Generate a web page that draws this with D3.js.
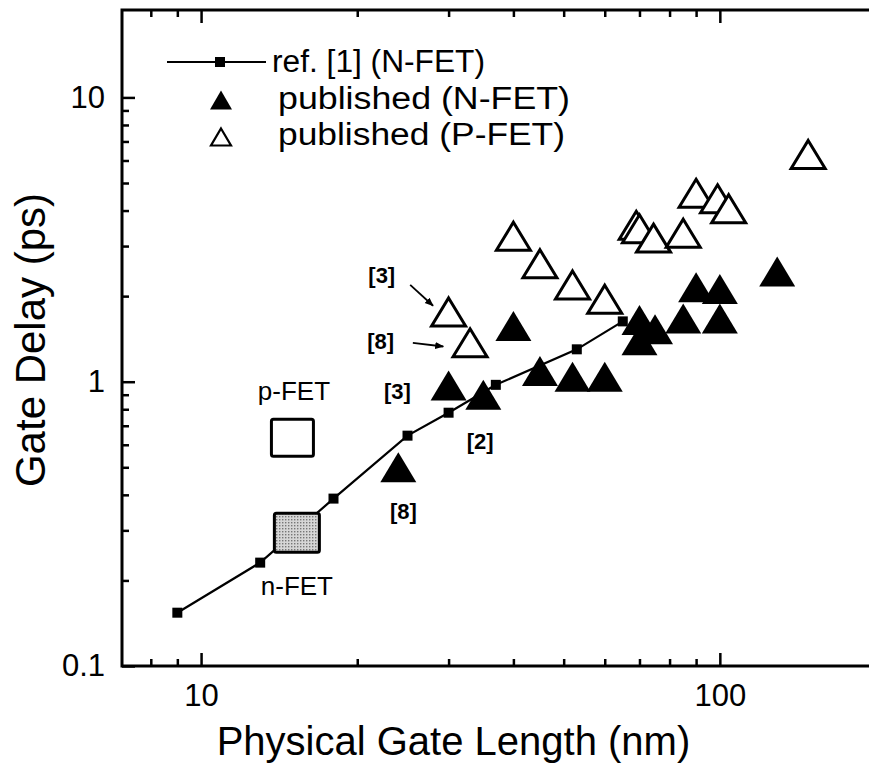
<!DOCTYPE html>
<html>
<head>
<meta charset="utf-8">
<script src="https://cdn.jsdelivr.net/npm/d3@7"></script>
<style>
  body { margin: 0; background: #fff; }
  text { font-family: "Liberation Sans", Arial, sans-serif; fill: #000; }
</style>
</head>
<body>
<svg id="chart"></svg>
<script>
// ref. [1] simulated N-FET curve
const refLength = [9, 13, 18, 25, 30, 37, 53, 65];
const refDelay = [0.154, 0.231, 0.388, 0.646, 0.778, 0.975, 1.30, 1.63];

// published N-FET (filled triangles)
const nfetLength = [24, 30, 35, 40, 45, 52, 60, 70, 70, 75, 85, 90, 100, 100, 129];
const nfetDelay = [0.50, 0.97, 0.90, 1.57, 1.09, 1.04, 1.04, 1.65, 1.40, 1.53, 1.67, 2.15, 2.12, 1.67, 2.44];

// published P-FET (open triangles)
const pfetLength = [30, 33, 40, 45, 52, 60, 69, 70, 74.5, 85, 90, 99, 104, 148];
const pfetDelay = [1.76, 1.37, 3.25, 2.60, 2.19, 1.95, 3.55, 3.45, 3.20, 3.33, 4.60, 4.40, 4.06, 6.30];

// this work boxes
const boxNames = ["p-FET", "n-FET"];
const boxLength = [15, 15.3];
const boxDelay = [0.635, 0.294];
const boxLabelLength = [15.1, 15.3];
const boxLabelDelay = [0.865, 0.178];

// citation labels and arrows
const citeText = ["[3]", "[8]", "[3]", "[2]", "[8]"];
const citeLength = [22.3, 22.2, 23.9, 34.5, 24.55];
const citeDelay = [2.37, 1.39, 0.926, 0.617, 0.35];
const arrowFrom = [[25.3, 2.19], [25.6, 1.37]];
const arrowTo = [[28.0, 1.85], [29.3, 1.33]];

const xMajor = [10, 100];
const xMinor = [8, 9, 20, 30, 40, 50, 60, 70, 80, 90, 200];
const yMajor = [0.1, 1, 10];
const yMinor = [0.2, 0.3, 0.4, 0.5, 0.6, 0.7, 0.8, 0.9, 2, 3, 4, 5, 6, 7, 8, 9];

const legendNames = ["ref. [1] (N-FET)", "published (N-FET)", "published (P-FET)"];

const width = 869, height = 767;
const svg = d3.select("#chart").attr("width", width).attr("height", height);
svg.append("rect").attr("width", width).attr("height", height).attr("fill", "#fff");

const x = d3.scaleLog().domain([7.04, 200]).range([122, 876]);
const y = d3.scaleLog().domain([0.1, 20.3]).range([666, 10]);

// axes (ticks point inward)
function addAxis(axis, transform) {
  const g = svg.append("g").attr("transform", transform).call(axis);
  g.select(".domain").remove();
  g.selectAll(".tick line").attr("stroke", "#000").attr("stroke-width", 2.5);
  g.selectAll("text").style("font-size", "31px").attr("fill", "#000");
  return g;
}
addAxis(d3.axisBottom(x).tickValues(xMajor).tickFormat(d3.format("d")).tickSize(-13).tickPadding(18), "translate(0,666)");
addAxis(d3.axisBottom(x).tickValues(xMinor).tickFormat("").tickSize(-7), "translate(0,666)");
addAxis(d3.axisTop(x).tickValues(xMajor).tickFormat("").tickSize(-13), "translate(0,10)");
addAxis(d3.axisTop(x).tickValues(xMinor).tickFormat("").tickSize(-7), "translate(0,10)");
addAxis(d3.axisLeft(y).tickValues(yMajor).tickFormat(d => d < 1 ? "0.1" : d3.format("d")(d)).tickSize(-13).tickPadding(17), "translate(122,0)");
addAxis(d3.axisLeft(y).tickValues(yMinor).tickFormat("").tickSize(-7), "translate(122,0)");

svg.append("rect")
  .attr("x", x.range()[0]).attr("y", y.range()[1])
  .attr("width", x.range()[1] - x.range()[0])
  .attr("height", y.range()[0] - y.range()[1])
  .attr("fill", "none").attr("stroke", "#000").attr("stroke-width", 3);

// axis titles
svg.append("text")
  .attr("x", (x(10) + x(100)) / 2 - 7).attr("y", 755)
  .attr("text-anchor", "middle").style("font-size", "40px")
  .text("Physical Gate Length (nm)");
svg.append("text")
  .attr("transform", "translate(45,340) rotate(-90)")
  .attr("text-anchor", "middle").style("font-size", "42px")
  .text("Gate Delay (ps)");

// ref. [1] line
const line = d3.line().x(d => x(d[0])).y(d => y(d[1]));
const refPts = refLength.map((l, i) => [l, refDelay[i]]);
svg.append("path").datum(refPts).attr("d", line)
  .attr("fill", "none").attr("stroke", "#000").attr("stroke-width", 2.2);
svg.selectAll(".ref-pt").data(refPts).enter().append("rect")
  .attr("class", "ref-pt")
  .attr("x", d => x(d[0]) - 5).attr("y", d => y(d[1]) - 5)
  .attr("width", 10).attr("height", 10).attr("fill", "#000");

// stipple for the n-FET box
const defs = svg.append("defs");
const stip = defs.append("pattern").attr("id", "stipple")
  .attr("width", 3).attr("height", 3).attr("patternUnits", "userSpaceOnUse");
stip.append("rect").attr("width", 3).attr("height", 3).attr("fill", "#d6d6d6");
stip.append("rect").attr("width", 1.4).attr("height", 1.4).attr("fill", "#777");

// this work boxes
const boxSize = [[42, 37], [45, 39]];
boxNames.forEach((name, i) => {
  const [w, h] = boxSize[i];
  svg.append("rect")
    .attr("x", x(boxLength[i]) - w / 2).attr("y", y(boxDelay[i]) - h / 2)
    .attr("width", w).attr("height", h).attr("rx", 2)
    .attr("fill", i === 0 ? "#fff" : "url(#stipple)")
    .attr("stroke", "#000").attr("stroke-width", 3);
  svg.append("text")
    .attr("x", x(boxLabelLength[i])).attr("y", y(boxLabelDelay[i]))
    .attr("text-anchor", "middle").style("font-size", "26px")
    .text(name);
});

// triangles
function tri(cx, cy, w, h) {
  return `M${cx},${cy - h / 2}L${cx + w / 2},${cy + h / 2}L${cx - w / 2},${cy + h / 2}Z`;
}
svg.selectAll(".pfet").data(pfetLength.map((l, i) => [l, pfetDelay[i]])).enter()
  .append("path").attr("class", "pfet")
  .attr("d", d => tri(x(d[0]), y(d[1]), 34, 28))
  .attr("fill", "#fff").attr("stroke", "#000").attr("stroke-width", 3)
  .attr("stroke-linejoin", "miter");
svg.selectAll(".nfet").data(nfetLength.map((l, i) => [l, nfetDelay[i]])).enter()
  .append("path").attr("class", "nfet")
  .attr("d", d => tri(x(d[0]), y(d[1]), 36, 30))
  .attr("fill", "#000");

// citation labels
citeText.forEach((t, i) => {
  svg.append("text")
    .attr("x", x(citeLength[i])).attr("y", y(citeDelay[i]))
    .attr("dy", "0.36em").attr("text-anchor", "middle")
    .style("font-size", "22px").style("font-weight", "bold")
    .text(t);
});

defs.append("marker")
  .attr("id", "arrow").attr("viewBox", "0 0 10 10")
  .attr("refX", 9).attr("refY", 5)
  .attr("markerWidth", 5).attr("markerHeight", 5)
  .attr("orient", "auto")
  .append("path").attr("d", "M0,1L10,5L0,9Z").attr("fill", "#000");
arrowFrom.forEach((f, i) => {
  svg.append("line")
    .attr("x1", x(f[0])).attr("y1", y(f[1]))
    .attr("x2", x(arrowTo[i][0])).attr("y2", y(arrowTo[i][1]))
    .attr("stroke", "#000").attr("stroke-width", 1.8)
    .attr("marker-end", "url(#arrow)");
});

// legend
const legend = svg.append("g");
legend.append("line").attr("x1", 167).attr("x2", 266).attr("y1", 62).attr("y2", 62)
  .attr("stroke", "#000").attr("stroke-width", 2.2);
legend.append("rect").attr("x", 215).attr("y", 57).attr("width", 10).attr("height", 10).attr("fill", "#000");
legend.append("path").attr("d", tri(221, 100, 22, 19)).attr("fill", "#000");
legend.append("path").attr("d", tri(221, 137, 20, 17)).attr("fill", "#fff")
  .attr("stroke", "#000").attr("stroke-width", 2.2);
const legendX = [272, 278, 278];
const legendY = [72, 108.5, 145];
const legendW = [213, 292, 287];
legendNames.forEach((n, i) => {
  legend.append("text")
    .attr("x", legendX[i]).attr("y", legendY[i])
    .style("font-size", "31px")
    .attr("textLength", legendW[i]).attr("lengthAdjust", "spacingAndGlyphs")
    .text(n);
});
</script>
</body>
</html>
